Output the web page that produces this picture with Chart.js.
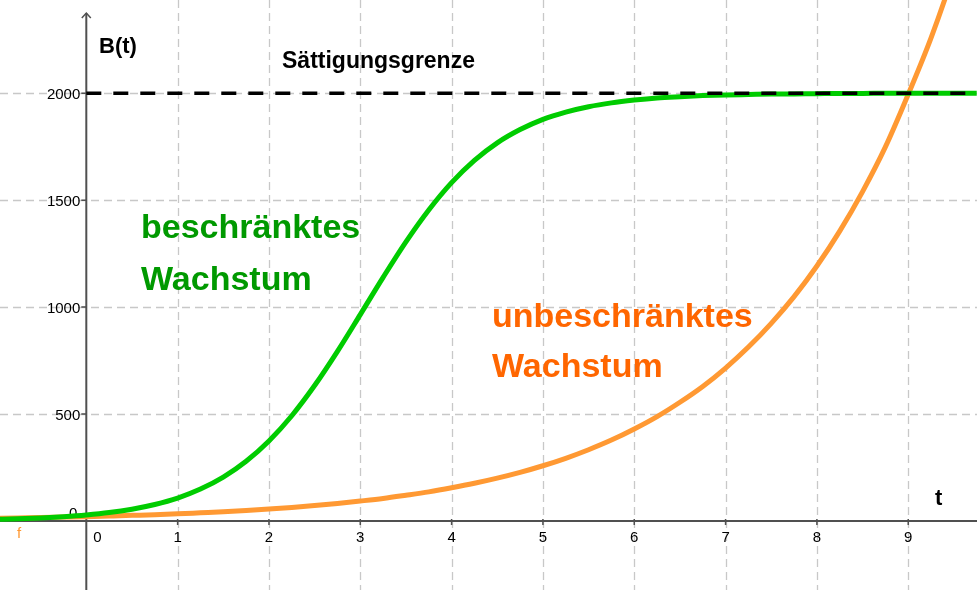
<!DOCTYPE html>
<html>
<head>
<meta charset="utf-8">
<title>Beschränktes und unbeschränktes Wachstum</title>
<script src="https://cdn.jsdelivr.net/npm/chart.js@4"></script>
<style>
  html, body { margin: 0; padding: 0; background: #fff; }
  canvas { display: block; }
</style>
</head>
<body>
<canvas id="chart" width="977" height="590"></canvas>
<script>
const tValues = [
  -1, -0.75, -0.5, -0.25, 0, 0.25, 0.5, 0.75, 1, 1.25, 1.5, 1.75,
  2, 2.25, 2.5, 2.75, 3, 3.25, 3.5, 3.75, 4, 4.25, 4.5, 4.75,
  5, 5.25, 5.5, 5.75, 6, 6.25, 6.5, 6.75, 7, 7.25, 7.5, 7.75,
  8, 8.25, 8.5, 8.75, 9, 9.25, 9.5, 9.75,
];
const limitedGrowth = [
  7, 10, 14, 20, 28, 39, 55, 77, 107, 149, 205, 279,
  374, 492, 633, 793, 965, 1139, 1305, 1454, 1582, 1686, 1768, 1830,
  1878, 1912, 1937, 1955, 1968, 1978, 1984, 1989, 1992, 1994, 1996, 1997,
  1998, 1999, 1999, 2000, 2000, 2000, 2000, 2000,
];
const unlimitedGrowth = [
  12, 14, 16, 18, 20, 23, 26, 29, 33, 38, 43, 49,
  56, 63, 72, 82, 93, 105, 120, 136, 155, 176, 200, 227,
  258, 293, 333, 378, 430, 488, 555, 629, 715, 813, 924, 1049,
  1192, 1355, 1540, 1749, 1995, 2259, 2566, 2916,
];
const saturationLimit = 2000;
const saturationFrom = [0, 9.75];

const xTickValues = [0, 1, 2, 3, 4, 5, 6, 7, 8, 9];
const yTickValues = [0, 500, 1000, 1500, 2000];

const FONT = '"Liberation Sans", Arial, sans-serif';

const toPoints = (xs, ys) => xs.map((x, i) => ({ x, y: ys[i] }));

// Gitter, Achsen und Beschriftung im GeoGebra-Stil
const axesPlugin = {
  id: "ggbAxes",
  beforeDatasetsDraw(chart) {
    const { ctx, scales: { x, y }, width, height } = chart;
    const x0 = x.getPixelForValue(0);
    const y0 = y.getPixelForValue(0);

    ctx.save();
    ctx.strokeStyle = "#c8c8c8";
    ctx.lineWidth = 1.3;
    ctx.setLineDash([8, 5]);
    for (const v of xTickValues) {
      if (v === 0) continue;
      const px = Math.round(x.getPixelForValue(v)) + 0.5;
      ctx.beginPath();
      ctx.moveTo(px, 0);
      ctx.lineTo(px, height);
      ctx.stroke();
    }
    for (const v of yTickValues) {
      if (v === 0) continue;
      const py = Math.round(y.getPixelForValue(v)) + 0.5;
      ctx.beginPath();
      ctx.moveTo(0, py);
      ctx.lineTo(width, py);
      ctx.stroke();
    }
    ctx.setLineDash([]);

    // Achsen
    ctx.strokeStyle = "#505050";
    ctx.lineWidth = 2;
    ctx.beginPath();
    ctx.moveTo(0, y0);
    ctx.lineTo(width, y0);
    ctx.moveTo(x0, height);
    ctx.lineTo(x0, 13);
    ctx.stroke();
    ctx.lineWidth = 1.5;
    ctx.beginPath();
    ctx.moveTo(x0 - 4.5, 18);
    ctx.lineTo(x0, 13);
    ctx.lineTo(x0 + 4.5, 18);
    ctx.stroke();

    // Striche
    ctx.lineWidth = 1.5;
    ctx.beginPath();
    for (const v of xTickValues) {
      if (v === 0) continue;
      const px = x.getPixelForValue(v);
      ctx.moveTo(px, y0 - 2);
      ctx.lineTo(px, y0 + 4);
    }
    for (const v of yTickValues) {
      if (v === 0) continue;
      const py = y.getPixelForValue(v);
      ctx.moveTo(x0 - 5, py);
      ctx.lineTo(x0, py);
    }
    ctx.stroke();

    // Zahlen
    ctx.fillStyle = "#000";
    ctx.font = `15px ${FONT}`;
    ctx.textBaseline = "alphabetic";
    ctx.textAlign = "center";
    for (const v of xTickValues) {
      const px = x.getPixelForValue(v) + (v === 0 ? 11 : 0);
      ctx.fillText(String(v), px, y0 + 21);
    }
    ctx.textAlign = "right";
    for (const v of yTickValues) {
      const py = y.getPixelForValue(v);
      if (v === 0) {
        ctx.fillText("0", x0 - 9, y0 - 3);
      } else {
        ctx.fillText(String(v), x0 - 6, py + 5.5);
      }
    }

    ctx.fillStyle = "#ff9933";
    ctx.textAlign = "left";
    ctx.fillText("f", 17, y0 + 17);
    ctx.restore();
  },
  afterDatasetsDraw(chart) {
    const { ctx } = chart;
    ctx.save();
    ctx.textAlign = "left";
    ctx.textBaseline = "alphabetic";
    ctx.fillStyle = "#000";
    ctx.font = `bold 22px ${FONT}`;
    ctx.fillText("B(t)", 99, 53);
    ctx.fillText("t", 935, 505);
    ctx.font = `bold 23px ${FONT}`;
    ctx.fillText("Sättigungsgrenze", 282, 68);

    ctx.font = `bold 34px ${FONT}`;
    ctx.fillStyle = "#009900";
    ctx.fillText("beschränktes", 141, 238);
    ctx.fillText("Wachstum", 141, 290);
    ctx.fillStyle = "#ff6600";
    ctx.fillText("unbeschränktes", 492, 327);
    ctx.fillText("Wachstum", 492, 377);
    ctx.restore();
  },
};

new Chart(document.getElementById("chart"), {
  type: "scatter",
  data: {
    datasets: [
      {
        label: "unbeschränktes Wachstum",
        data: toPoints(tValues, unlimitedGrowth),
        borderColor: "#ff9933",
        borderWidth: 5,
        showLine: true,
        pointRadius: 0,
        cubicInterpolationMode: "monotone",
        order: 3,
      },
      {
        label: "beschränktes Wachstum",
        data: toPoints(tValues, limitedGrowth),
        borderColor: "#00cc00",
        borderWidth: 5,
        showLine: true,
        pointRadius: 0,
        cubicInterpolationMode: "monotone",
        order: 2,
      },
      {
        label: "Sättigungsgrenze",
        data: saturationFrom.map((t) => ({ x: t, y: saturationLimit })),
        borderColor: "#000",
        borderWidth: 3.5,
        borderDash: [15, 12],
        showLine: true,
        pointRadius: 0,
        order: 1,
      },
    ],
  },
  options: {
    responsive: false,
    animation: false,
    layout: { padding: 0 },
    plugins: { legend: { display: false }, tooltip: { enabled: false } },
    scales: {
      x: { type: "linear", min: -0.945, max: 9.753, display: false },
      y: { type: "linear", min: -323, max: 2436, display: false },
    },
  },
  plugins: [axesPlugin],
});
</script>
</body>
</html>
